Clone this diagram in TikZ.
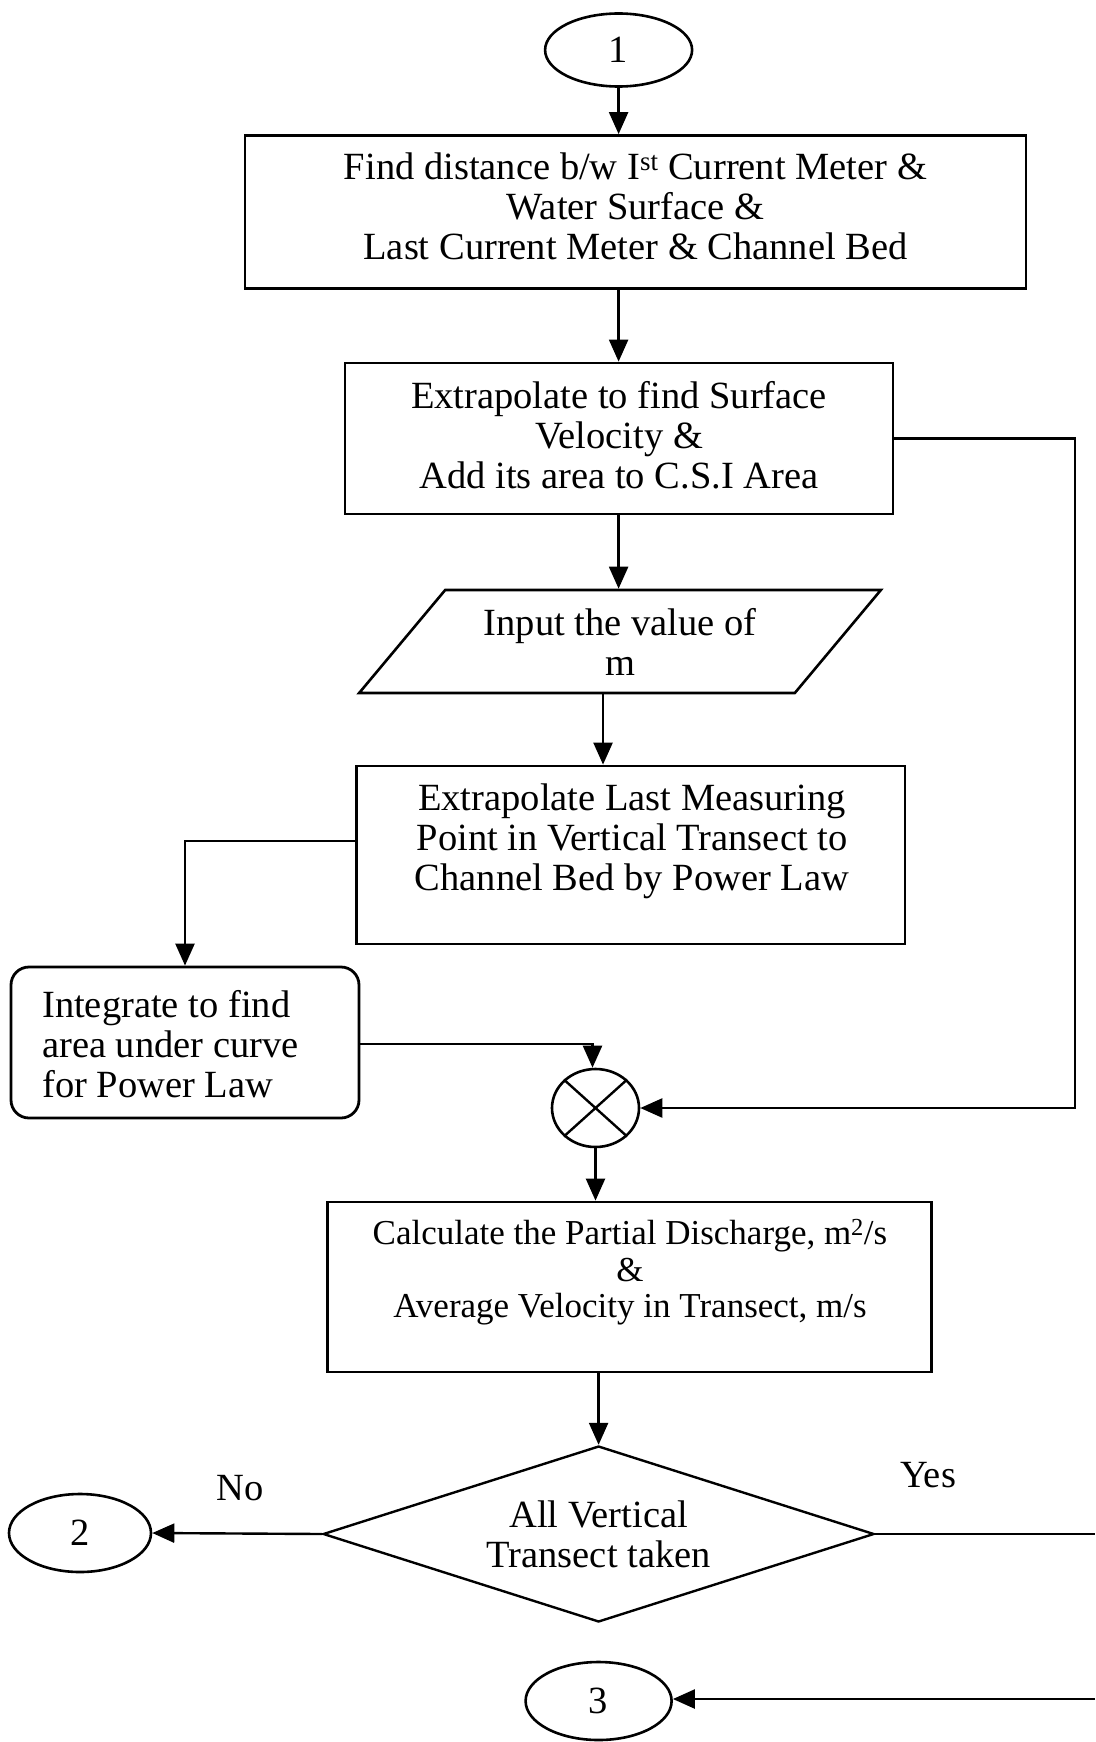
\documentclass[tikz,border=0pt]{standalone}
\usepackage{fontspec}
\setmainfont{Liberation Serif}
\usetikzlibrary{arrows.meta,shapes.geometric}

\tikzset{
  every node/.style={font=\fontsize{38.5}{40}\selectfont},
  line/.style={line width=2.4pt},
  arr/.style={line width=2.4pt,-{Triangle[length=22pt,width=19pt]}},
  procbox/.style={draw,line width=2.8pt,rectangle,inner sep=0pt,align=center},
  roundbox/.style={draw,line width=2.8pt,rectangle,rounded corners=18pt,inner sep=0pt},
  connector/.style={draw,line width=2.6pt,ellipse,inner sep=0pt},
  inbox/.style={draw,line width=2.6pt,trapezium,trapezium left angle=45,trapezium right angle=135,
    trapezium stretches=true,inner sep=0pt,align=center},
  decision/.style={draw,line width=2.4pt,diamond,inner sep=0pt,align=center,aspect=3.1},
  txt/.style={align=center,inner sep=0pt},
}

\begin{document}
\begin{tikzpicture}[x=1pt,y=-1pt]
\useasboundingbox (0,0) rectangle (1095,1742);

% connector 1 and the first two steps
\node[connector,minimum width=147pt,minimum height=73pt] (c1) at (618.6,50) {1};
\node[procbox,minimum width=781pt,minimum height=153pt] (b1) at (635.5,212) {};
\node[txt] (b1t) at (635.5,206)
  {Find distance b/w I\textsuperscript{st} Current Meter \&\\Water Surface \&\\Last Current Meter \& Channel Bed};
\node[procbox,minimum width=548pt,minimum height=151pt] (b2) at (619,438.5) {};
\node[txt] (b2t) at (619,435)
  {Extrapolate to find Surface\\Velocity \&\\Add its area to C.S.I Area};

% input of m
\node[inbox,minimum width=522pt,minimum height=103pt] (in) at (620,641.5)
  {Input the value of\\m};

% power law extrapolation
\node[procbox,minimum width=548.5pt,minimum height=178pt] (b3) at (630.75,855) {};
\node[txt] (b3t) at (632,841.5)
  {Extrapolate Last Measuring\\Point in Vertical Transect to\\Channel Bed by Power Law};

% integration
\node[roundbox,minimum width=348pt,minimum height=151pt] (b4) at (185,1042.5) {};
\node[txt,align=left,anchor=west] (b4t) at (42,1044)
  {Integrate to find\\area under curve\\for Power Law};

% summing junction
\node[connector,minimum width=87pt,minimum height=78pt] (sx) at (595.5,1108) {};
\draw[line] (sx.north west) -- (sx.south east);
\draw[line] (sx.north east) -- (sx.south west);

% partial discharge
\node[procbox,minimum width=604pt,minimum height=170pt] (b5) at (629.8,1287) {};
\node[txt,font=\fontsize{35}{36.5}\selectfont] (b5t) at (630,1272.5)
  {Calculate the Partial Discharge, m\textsuperscript{2}/s\\\&\\Average Velocity in Transect, m/s};

% decision and exits
\node[decision,minimum width=551pt,minimum height=176pt] (d) at (598.6,1534)
  {All Vertical\\Transect taken};
\node[connector,minimum width=142pt,minimum height=78pt] (c2) at (80,1533) {2};
\node[connector,minimum width=146pt,minimum height=78pt] (c3) at (598.6,1701) {3};
\node[txt] (no) at (240,1488) {No};
\node[txt] (yes) at (928,1475) {Yes};
\coordinate (yesend) at (1095,1534);
\coordinate (threein) at (1095,1699);
\coordinate (rt) at (1075,438.6);

% connectors
\draw[arr] (c1.south) -- (c1.south |- b1.north);
\draw[arr] (b1.south -| c1) -- (b2.north -| c1);
\draw[arr] (b2.south -| c1) -- (in.north -| c1);
\draw[arr] ([xshift=-17pt]in.south) -- ([xshift=-17pt]in.south |- b3.north);
\draw[arr] (b3.west |- 0,841) -| (b4.north);
\draw[arr] (b4.east |- 0,1044) -| ([xshift=-3pt]sx.north);
\draw[arr] (b2.east |- rt) -- (rt) |- (sx.east);
\draw[arr] (sx.south) -- (b5.north -| sx.south);
\draw[arr] (b5.south -| d.north) -- (d.north);
\draw[arr] (d.west) -- (c2.east);
\draw[line] (d.east) -- (yesend);
\draw[arr] (threein) -- (c3.east |- threein);
\end{tikzpicture}
\end{document}
